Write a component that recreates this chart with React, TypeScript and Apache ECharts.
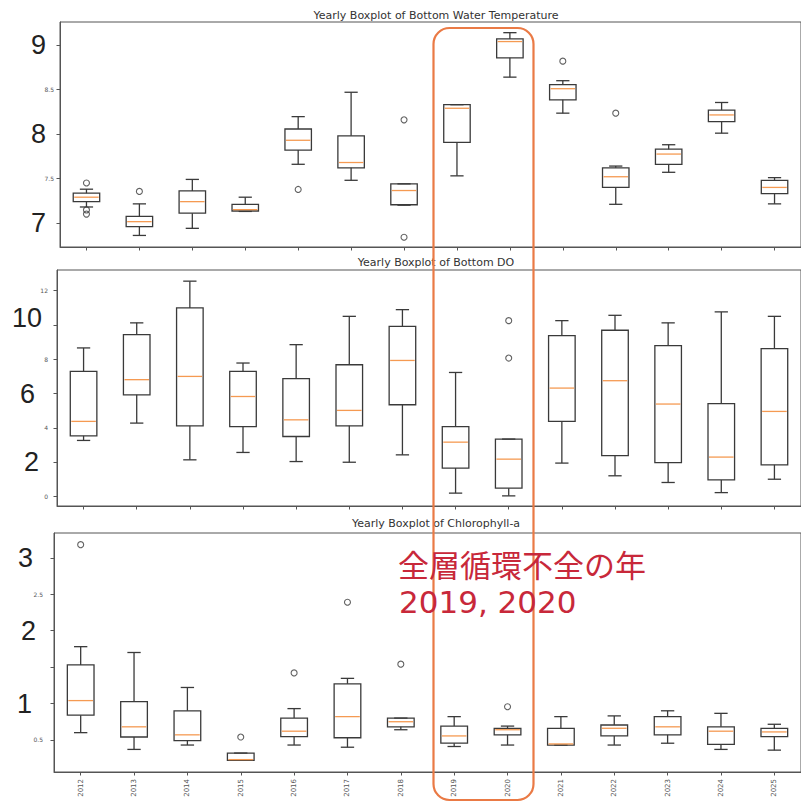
import React, { useEffect, useRef } from "react";
import * as echarts from "echarts";

// Survey years (x categories shared by the three panels)
const years = ["2012", "2013", "2014", "2015", "2016", "2017", "2018", "2019", "2020", "2021", "2022", "2023", "2024", "2025"];

// Box statistics per year: [lower whisker, Q1, median, Q3, upper whisker]
const tempBoxes = [
  [7.18, 7.24, 7.29, 7.335, 7.38],
  [6.86, 6.96, 7.015, 7.075, 7.215],
  [6.94, 7.11, 7.24, 7.36, 7.49],
  [7.13, 7.135, 7.15, 7.21, 7.29],
  [7.66, 7.82, 7.93, 8.057, 8.196],
  [7.48, 7.62, 7.68, 7.98, 8.47],
  [7.2, 7.205, 7.365, 7.44, 7.44],
  [7.53, 7.906, 8.29, 8.33, 8.33],
  [8.64, 8.857, 9.04, 9.07, 9.14],
  [8.235, 8.385, 8.51, 8.555, 8.6],
  [7.21, 7.4, 7.52, 7.62, 7.64],
  [7.57, 7.66, 7.775, 7.83, 7.88],
  [8.01, 8.14, 8.215, 8.27, 8.355],
  [7.215, 7.33, 7.4, 7.48, 7.51],
];
// Outliers: [year index, value]
const tempOutliers = [
  [0, 7.45], [0, 7.147], [0, 7.1], [1, 7.355], [4, 7.377],
  [6, 8.16], [6, 6.84], [9, 8.82], [10, 8.235],
];

const doBoxes = [
  [3.27, 3.54, 4.38, 7.29, 8.66],
  [4.28, 5.93, 6.81, 9.43, 10.12],
  [2.14, 4.12, 7.0, 10.99, 12.55],
  [2.57, 4.08, 5.83, 7.29, 7.78],
  [2.04, 3.5, 4.47, 6.87, 8.85],
  [2.0, 4.12, 5.02, 7.68, 10.5],
  [2.43, 5.35, 7.93, 9.92, 10.89],
  [0.2, 1.66, 3.17, 4.08, 7.23],
  [0.04, 0.49, 2.18, 3.35, 3.35],
  [1.95, 4.38, 6.32, 9.38, 10.25],
  [1.21, 2.39, 6.75, 9.69, 10.56],
  [0.82, 1.98, 5.39, 8.79, 10.12],
  [0.23, 0.97, 2.3, 5.41, 10.76],
  [1.01, 1.85, 4.96, 8.62, 10.5],
];
const doOutliers = [[8, 10.25], [8, 8.07]];

const chlBoxes = [
  [0.6, 0.84, 1.04, 1.53, 1.78],
  [0.37, 0.54, 0.68, 1.025, 1.7],
  [0.43, 0.49, 0.57, 0.9, 1.22],
  [0.22, 0.22, 0.23, 0.32, 0.32],
  [0.43, 0.545, 0.62, 0.8, 0.93],
  [0.4, 0.53, 0.82, 1.27, 1.345],
  [0.64, 0.68, 0.75, 0.8, 0.8],
  [0.41, 0.455, 0.555, 0.69, 0.82],
  [0.43, 0.57, 0.64, 0.66, 0.69],
  [0.43, 0.43, 0.445, 0.66, 0.82],
  [0.43, 0.555, 0.66, 0.705, 0.83],
  [0.455, 0.57, 0.68, 0.82, 0.9],
  [0.37, 0.44, 0.62, 0.68, 0.865],
  [0.36, 0.545, 0.61, 0.66, 0.715],
];
const chlOutliers = [[0, 3.18], [3, 0.54], [4, 1.42], [5, 2.39], [6, 1.54], [8, 0.956]];

// Y tick positions per panel
const tempTicks = [7, 7.5, 8, 8.5, 9];
const doTicks = [0, 2, 4, 6, 8, 10, 12];
const chlTicks = [0.5, 1, 1.5, 2, 2.5, 3];

const titles = [
  "Yearly Boxplot of Bottom Water Temperature",
  "Yearly Boxplot of Bottom DO",
  "Yearly Boxplot of Chlorophyll-a",
];
const noteLines = ["全層循環不全の年", "2019, 2020"];

const EDGE = "#3a3a3a";
const MEDIAN = "#f59a52";
const FRAME = "#555";

function boxRenderer(params: any, api: any) {
  const i = api.value(0);
  const lo = api.coord([i, api.value(1)]);
  const q1 = api.coord([i, api.value(2)]);
  const md = api.coord([i, api.value(3)]);
  const q3 = api.coord([i, api.value(4)]);
  const hi = api.coord([i, api.value(5)]);
  const band = api.size([1, 0])[0];
  const hw = band * 0.25;
  const cw = band * 0.125;
  const x = q1[0];
  const st = { stroke: EDGE, lineWidth: 1.3, fill: "none" };
  return {
    type: "group",
    children: [
      { type: "line", shape: { x1: x, y1: q3[1], x2: x, y2: hi[1] }, style: st },
      { type: "line", shape: { x1: x, y1: q1[1], x2: x, y2: lo[1] }, style: st },
      { type: "line", shape: { x1: x - cw, y1: hi[1], x2: x + cw, y2: hi[1] }, style: st },
      { type: "line", shape: { x1: x - cw, y1: lo[1], x2: x + cw, y2: lo[1] }, style: st },
      { type: "rect", shape: { x: x - hw, y: q3[1], width: hw * 2, height: q1[1] - q3[1] }, style: st },
      { type: "line", shape: { x1: x - hw + 1, y1: md[1], x2: x + hw - 1, y2: md[1] }, style: { stroke: MEDIAN, lineWidth: 1.3 } },
    ],
  };
}

const smallLabel = { fontFamily: "DejaVu Sans", fontSize: 6, color: "#555" };
const bigBase = { fontFamily: "Liberation Sans", fontSize: 27, color: "#222" };

function makeYAxis(gridIndex: number, min: number, max: number, ticks: number[], margin: number, fmt: (v: number) => string, rich: any) {
  return {
    type: "value",
    gridIndex,
    min,
    max,
    axisLine: { show: true, onZero: false, lineStyle: { color: FRAME, width: 1 } },
    axisTick: { show: true, customValues: ticks, length: 3.5, lineStyle: { color: FRAME } },
    axisLabel: { customValues: ticks, margin, formatter: fmt, rich },
    splitLine: { show: false },
  };
}

function makeXAxis(gridIndex: number, showLabels: boolean) {
  return {
    type: "category",
    gridIndex,
    data: years,
    boundaryGap: true,
    axisLine: { show: true, onZero: false, lineStyle: { color: FRAME, width: 1 } },
    axisTick: { show: true, alignWithLabel: true, length: 3.5, lineStyle: { color: FRAME } },
    axisLabel: showLabels
      ? { show: true, rotate: 90, fontFamily: "DejaVu Sans", fontSize: 7, color: "#555", margin: 7, interval: 0 }
      : { show: false },
    splitLine: { show: false },
  };
}

const boxData = (boxes: number[][]) => boxes.map((b, i) => [i, ...b]);

export default function App() {
  const ref = useRef<HTMLDivElement>(null);

  useEffect(() => {
    if (!ref.current) return;
    const chart = echarts.init(ref.current, null, { renderer: "svg" });

    const tempFmt = (v: number) => (Number.isInteger(v) ? `{b|${v}}` : `{s|${v}}`);
    const doFmt = (v: number) => {
      if (v === 10) return `{b10|${v}}`;
      if (v === 6) return `{b6|${v}}`;
      if (v === 2) return `{b2|${v}}`;
      return `{s|${v}}`;
    };
    const chlFmt = (v: number) => {
      if (v === 1.5) return "";
      if (v === 3) return `{b3|${v}}`;
      if (v === 2) return `{b2|${v}}`;
      if (v === 1) return `{b1|${v}}`;
      return `{s|${v}}`;
    };

    const grids = [
      { left: 60, right: -12, top: 22, height: 225 },
      { left: 57, right: -12, top: 270, height: 236 },
      { left: 54, right: -13, top: 533, height: 239 },
    ].map((g) => ({ ...g, show: true, borderColor: FRAME, borderWidth: 1, backgroundColor: "transparent", containLabel: false }));

    const outlierSeries = (idx: number, data: number[][]) => ({
      type: "scatter",
      xAxisIndex: idx,
      yAxisIndex: idx,
      data,
      symbol: "circle",
      symbolSize: 6,
      itemStyle: { color: "rgba(0,0,0,0)", borderColor: EDGE, borderWidth: 1.1 },
      silent: true,
      z: 3,
    });

    const boxSeries = (idx: number, boxes: number[][]) => ({
      type: "custom",
      xAxisIndex: idx,
      yAxisIndex: idx,
      data: boxData(boxes),
      encode: { x: 0, y: [1, 2, 3, 4, 5] },
      renderItem: boxRenderer,
      silent: true,
      z: 2,
    });

    const titleX = 436;
    const titleYs = [15, 262, 523];

    chart.setOption({
      animation: false,
      backgroundColor: "#ffffff",
      grid: grids,
      xAxis: [makeXAxis(0, false), makeXAxis(1, false), makeXAxis(2, true)],
      yAxis: [
        makeYAxis(0, 6.73, 9.26, tempTicks, 6, tempFmt, {
          s: smallLabel,
          b: { ...bigBase, padding: [0, 8, 0, 0] },
        }),
        makeYAxis(1, -0.55, 13.2, doTicks, 9, doFmt, {
          s: smallLabel,
          b10: { ...bigBase, padding: [0, 6, 14, 0] },
          b6: { ...bigBase, padding: [0, 13, 0, 0] },
          b2: { ...bigBase, padding: [0, 9, 0, 0] },
        }),
        makeYAxis(2, 0.06, 3.34, chlTicks, 11, chlFmt, {
          s: smallLabel,
          b3: { ...bigBase, padding: [0, 10, 0, 0] },
          b2: { ...bigBase, padding: [0, 7, 0, 0] },
          b1: { ...bigBase, padding: [0, 11, 0, 0] },
        }),
      ],
      series: [
        boxSeries(0, tempBoxes),
        outlierSeries(0, tempOutliers),
        boxSeries(1, doBoxes),
        outlierSeries(1, doOutliers),
        boxSeries(2, chlBoxes),
        outlierSeries(2, chlOutliers),
      ],
      graphic: [
        ...titles.map((t, i) => ({
          type: "text",
          x: titleX,
          y: titleYs[i],
          style: {
            text: t,
            textAlign: "center",
            textVerticalAlign: "middle",
            fontFamily: "DejaVu Sans",
            fontSize: 11,
            fill: "#333",
          },
          z: 10,
        })),
        {
          type: "rect",
          shape: { x: 433.5, y: 28, width: 100, height: 772, r: 16 },
          style: { fill: "none", stroke: "#ea7a45", lineWidth: 2.2 },
          z: 20,
        },
        {
          type: "text",
          x: 398,
          y: 563,
          style: {
            text: noteLines[0],
            textAlign: "left",
            textVerticalAlign: "middle",
            fontFamily: "Noto Sans CJK JP",
            fontSize: 31,
            fill: "#c8283a",
          },
          z: 21,
        },
        {
          type: "text",
          x: 399,
          y: 602,
          style: {
            text: noteLines[1],
            textAlign: "left",
            textVerticalAlign: "middle",
            fontFamily: "DejaVu Sans",
            fontSize: 31,
            fill: "#c8283a",
          },
          z: 21,
        },
      ],
    });

    return () => chart.dispose();
  }, []);

  return (
    <div
      ref={ref}
      style={{ position: "absolute", left: 0, top: 0, width: 801, height: 803, background: "#fff" }}
    />
  );
}
